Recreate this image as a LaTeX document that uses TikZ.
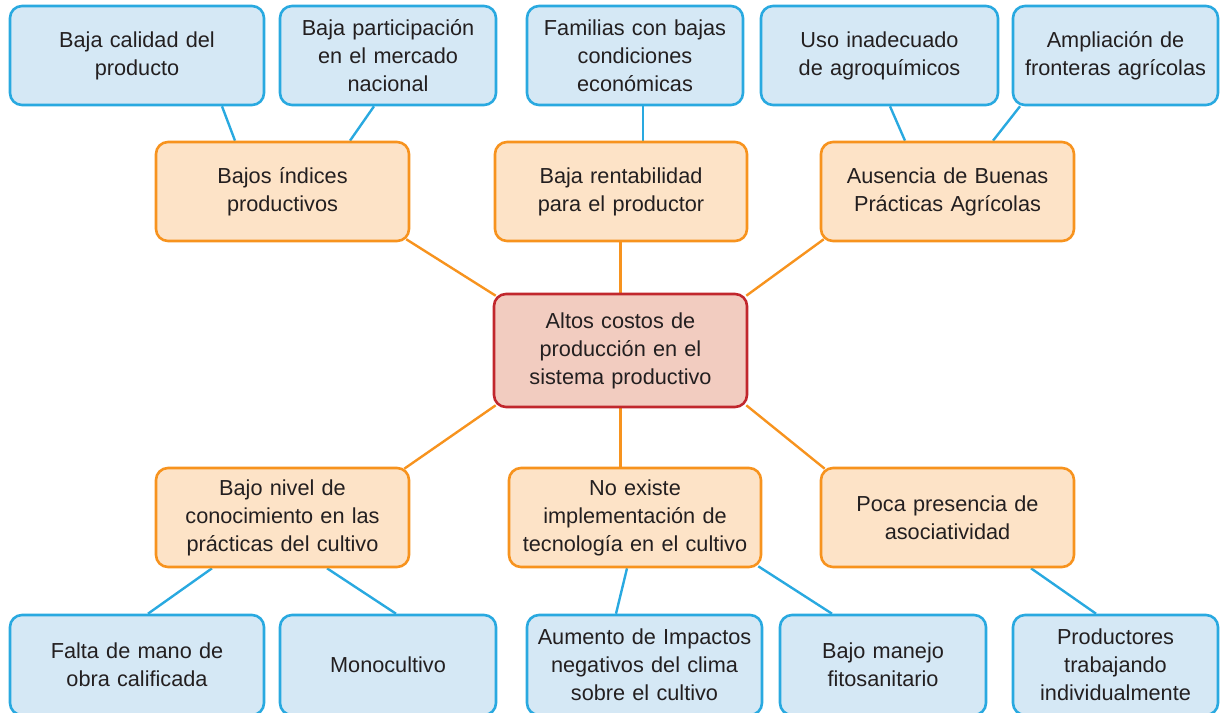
\documentclass[tikz,border=0pt]{standalone}
\usepackage{fontspec}
\setmainfont{Liberation Sans}
\usetikzlibrary{calc,backgrounds}
\definecolor{bline}{HTML}{29A9E0}
\definecolor{bfill}{HTML}{D5E8F5}
\definecolor{oline}{HTML}{F7931E}
\definecolor{ofill}{HTML}{FDE3C7}
\definecolor{rline}{HTML}{C1272D}
\definecolor{rfill}{HTML}{F2CCC0}
\definecolor{txt}{HTML}{231F20}
\tikzset{
  box/.style={rounded corners=12pt, line width=2.6pt, align=center, inner sep=0pt,
    font=\fontsize{21.7}{28}\selectfont, text=txt},
  bluebox/.style={box, draw=bline, fill=bfill},
  orangebox/.style={box, draw=oline, fill=ofill},
  redbox/.style={box, draw=rline, fill=rfill},
  bconn/.style={draw=bline, line width=2.4pt},
  oconn/.style={draw=oline, line width=2.4pt}
}
\begin{document}
\begin{tikzpicture}[x=1pt,y=-1pt]
\useasboundingbox (0,0) rectangle (1220,712);
\clip (0,0) rectangle (1220,712);
% top blue
\node[bluebox, minimum width=254, minimum height=99, text width=240] (B1) at (137,55.5) {Baja calidad del\\producto};
\node[bluebox, minimum width=216, minimum height=99, text width=210] (B2) at (388,55.5) {Baja participación\\en el mercado\\nacional};
\node[bluebox, minimum width=216, minimum height=99, text width=210] (B3) at (635,55.5) {Familias con bajas\\condiciones\\económicas};
\node[bluebox, minimum width=237, minimum height=99, text width=225] (B4) at (879.5,55.5) {Uso inadecuado\\de agroquímicos};
\node[bluebox, minimum width=205, minimum height=99, text width=203] (B5) at (1115.5,55.5) {Ampliación de\\fronteras agrícolas};
% orange top
\node[orangebox, minimum width=253, minimum height=99, text width=240] (O1) at (282.5,191.5) {Bajos índices\\productivos};
\node[orangebox, minimum width=252, minimum height=99, text width=240] (O2) at (621,191.5) {Baja rentabilidad\\para el productor};
\node[orangebox, minimum width=253, minimum height=99, text width=240] (O3) at (947.5,191.5) {Ausencia de Buenas\\Prácticas Agrícolas};
% center
\node[redbox, minimum width=253, minimum height=113, text width=240] (C) at (620.5,350.5) {Altos costos de\\producción en el\\sistema productivo};
% orange bottom
\node[orangebox, minimum width=253, minimum height=99, text width=245] (O4) at (282.5,517.5) {Bajo nivel de\\conocimiento en las\\prácticas del cultivo};
\node[orangebox, minimum width=252, minimum height=99, text width=245] (O5) at (635,517.5) {No existe\\implementación de\\tecnología en el cultivo};
\node[orangebox, minimum width=253, minimum height=99, text width=240] (O6) at (947.5,517.5) {Poca presencia de\\asociatividad};
% bottom blue
\node[bluebox, minimum width=254, minimum height=100, text width=240] (L1) at (137,665) {Falta de mano de\\obra calificada};
\node[bluebox, minimum width=216, minimum height=100, text width=210] (L2) at (388,665) {Monocultivo};
\node[bluebox, minimum width=235, minimum height=100, text width=233] (L3) at (644.5,665) {Aumento de Impactos\\negativos del clima\\sobre el cultivo};
\node[bluebox, minimum width=206, minimum height=100, text width=204] (L4) at (883,665) {Bajo manejo\\fitosanitario};
\node[bluebox, minimum width=205, minimum height=100, text width=203] (L5) at (1115.5,665) {Productores\\trabajando\\individualmente};
\begin{scope}[on background layer]
% center connectors
\draw[oconn] ($(O1.south east)+(-4,-3)$) -- ($(C.north west)+(3,3)$);
\draw[oconn] (O2.south -| C.north) -- (C.north);
\draw[oconn] ($(O3.south west)+(4,-3)$) -- ($(C.north east)+(-2,3)$);
\draw[oconn] ($(C.south west)+(3,-3)$) -- ($(O4.north east)+(-6,2)$);
\draw[oconn] (C.south) -- (C.south |- O5.north);
\draw[oconn] ($(C.south east)+(-2,-3)$) -- ($(O6.north west)+(5,2)$);
% blue connectors
\draw[bconn] ($(B1.south)+(85,0)$) -- ($(O1.north)+(-47.5,0)$);
\draw[bconn] ($(B2.south)+(-14,0)$) -- ($(O1.north)+(67.5,0)$);
\draw[bconn] ($(B3.south)+(8,0)$) -- ($(O2.north)+(22,0)$);
\draw[bconn] ($(B4.south)+(10.5,0)$) -- ($(O3.north)+(-42.5,0)$);
\draw[bconn] ($(B5.south)+(-95.5,0)$) -- ($(O3.north)+(45.5,0)$);
\draw[bconn] ($(O4.south)+(-70.5,0)$) -- ($(L1.north)+(11,0)$);
\draw[bconn] ($(O4.south)+(44.5,0)$) -- ($(L2.north)+(8,0)$);
\draw[bconn] ($(O5.south)+(-8,0)$) -- ($(L3.north)+(-28.5,0)$);
\draw[bconn] ($(O5.south east)+(-4,-2)$) -- ($(L4.north)+(-51,0)$);
\draw[bconn] ($(O6.south)+(83.5,0)$) -- ($(L5.north)+(-19.5,0)$);
\end{scope}
\end{tikzpicture}
\end{document}
